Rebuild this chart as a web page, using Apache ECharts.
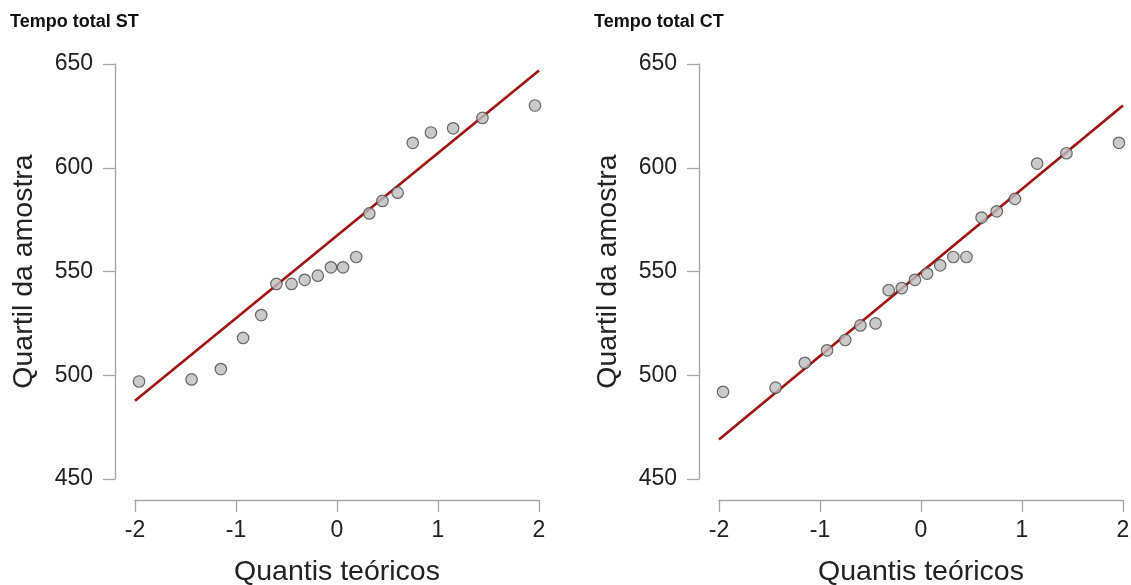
<!DOCTYPE html>
<html>
<head>
<meta charset="utf-8">
<script src="https://cdn.jsdelivr.net/npm/echarts@6/dist/echarts.min.js"></script>
<style>
html,body{margin:0;padding:0;background:#fff;}
#chart{width:1131px;height:585px;}
</style>
</head>
<body>
<div id="chart"></div>
<script>
// Theoretical normal quantiles (x positions)
const theoreticalQuantiles = [-1.96, -1.44, -1.15, -0.93, -0.75, -0.60, -0.45, -0.32, -0.19, -0.06,
                              0.06, 0.19, 0.32, 0.45, 0.60, 0.75, 0.93, 1.15, 1.44, 1.96];
// Sample quantiles, Tempo total ST
const stValues = [497, 498, 503, 518, 529, 544, 544, 546, 548, 552,
                  552, 557, 578, 584, 588, 612, 617, 619, 624, 630];
// Sample quantiles, Tempo total CT
const ctValues = [492, 494, 506, 512, 517, 524, 525, 541, 542, 546,
                  549, 553, 557, 557, 576, 579, 585, 602, 607, 612];
// Reference line endpoints (x, y)
const lineX = [-2, 2];
const stLineY = [487.7, 646.9];
const ctLineY = [469, 630];
// Axis ticks
const xTicks = [-2, -1, 0, 1, 2];
const yTicks = [450, 500, 550, 600, 650];
const titles = ['Tempo total ST', 'Tempo total CT'];
const xName = 'Quantis teóricos';
const yName = 'Quartil da amostra';

const FONT = 'Arial, "Liberation Sans", sans-serif';
const chart = echarts.init(document.getElementById('chart'), null, {renderer: 'canvas'});

function pairs(xs, ys) { return xs.map((x, i) => [x, ys[i]]); }

const grids = [
  {left: 135, top: 64, width: 404, height: 415, containLabel: false, outerBoundsMode: 'none'},
  {left: 719, top: 64, width: 404, height: 415, containLabel: false, outerBoundsMode: 'none'}
];

function xAxis(i) {
  return {
    type: 'value', gridIndex: i, min: xTicks[0], max: xTicks[xTicks.length - 1], interval: 1,
    offset: 21,
    axisLine: {show: true, onZero: false, lineStyle: {color: '#a6a6a6', width: 1.3}},
    axisTick: {show: true, inside: false, length: 12, lineStyle: {color: '#a6a6a6', width: 1.3}},
    axisLabel: {show: true, color: '#222', fontSize: 23, fontFamily: FONT, margin: 19},
    splitLine: {show: false},
    name: xName, nameLocation: 'middle', nameGap: 58,
    nameTextStyle: {color: '#222', fontSize: 28.5, fontFamily: FONT}
  };
}
function yAxis(i) {
  return {
    type: 'value', gridIndex: i, min: yTicks[0], max: yTicks[yTicks.length - 1], interval: 50,
    offset: 20,
    axisLine: {show: true, onZero: false, lineStyle: {color: '#a6a6a6', width: 1.3}},
    axisTick: {show: true, inside: false, length: 12, lineStyle: {color: '#a6a6a6', width: 1.3}},
    axisLabel: {show: true, color: '#222', fontSize: 23, fontFamily: FONT, margin: 22},
    splitLine: {show: false},
    name: yName, nameLocation: 'middle', nameGap: 76, nameRotate: 90,
    nameTextStyle: {color: '#222', fontSize: 28.5, fontFamily: FONT}
  };
}

const pointStyle = {color: '#bdbdbd', borderColor: '#4a4a4a', borderWidth: 1.2};
const lineStyle = {color: '#a01414', width: 2.7};

const option = {
  backgroundColor: '#fff',
  animation: false,
  title: [
    {text: titles[0], left: 10, top: 13, padding: 0, textStyle: {fontSize: 18, fontWeight: 'bold', color: '#111', fontFamily: FONT}},
    {text: titles[1], left: 594, top: 13, padding: 0, textStyle: {fontSize: 18, fontWeight: 'bold', color: '#111', fontFamily: FONT}}
  ],
  grid: grids,
  xAxis: [xAxis(0), xAxis(1)],
  yAxis: [yAxis(0), yAxis(1)],
  series: [
    {type: 'line', xAxisIndex: 0, yAxisIndex: 0, data: pairs(lineX, stLineY), showSymbol: false, symbol: 'none', lineStyle: lineStyle, z: 2, silent: true},
    {type: 'scatter', xAxisIndex: 0, yAxisIndex: 0, data: pairs(theoreticalQuantiles, stValues), symbol: 'circle', symbolSize: 11.5, itemStyle: pointStyle, z: 3},
    {type: 'line', xAxisIndex: 1, yAxisIndex: 1, data: pairs(lineX, ctLineY), showSymbol: false, symbol: 'none', lineStyle: lineStyle, z: 2, silent: true},
    {type: 'scatter', xAxisIndex: 1, yAxisIndex: 1, data: pairs(theoreticalQuantiles, ctValues), symbol: 'circle', symbolSize: 11.5, itemStyle: pointStyle, z: 3}
  ]
};
chart.setOption(option);
</script>
</body>
</html>
